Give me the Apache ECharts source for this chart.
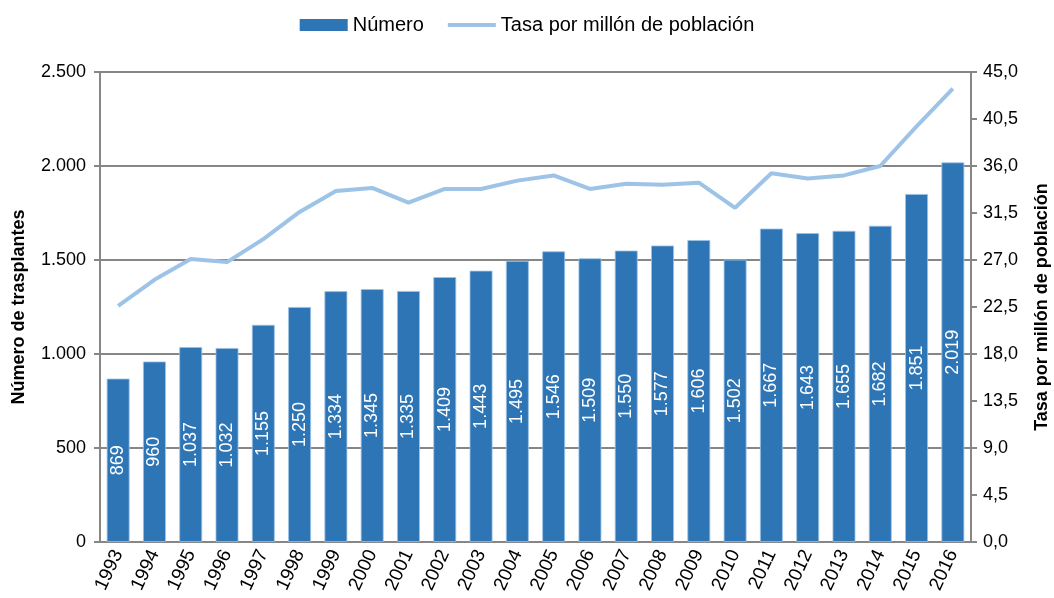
<!DOCTYPE html>
<html>
<head>
<meta charset="utf-8">
<script src="https://cdn.jsdelivr.net/npm/echarts@6/dist/echarts.min.js"></script>
<style>html,body{margin:0;padding:0;background:#fff}#c{width:1054px;height:598px}</style>
</head>
<body>
<div id="c"></div>
<script>
const years = ['1993','1994','1995','1996','1997','1998','1999','2000','2001','2002','2003','2004','2005','2006','2007','2008','2009','2010','2011','2012','2013','2014','2015','2016'];
const numero = [869,960,1037,1032,1155,1250,1334,1345,1335,1409,1443,1495,1546,1509,1550,1577,1606,1502,1667,1643,1655,1682,1851,2019];
const tasa = [22.6,25.1,27.1,26.8,29.0,31.6,33.6,33.9,32.5,33.8,33.8,34.6,35.1,33.8,34.3,34.2,34.4,32.0,35.3,34.8,35.1,36.0,39.8,43.4];

const FONT = '"Liberation Sans", Arial, Helvetica, sans-serif';
const thou = v => String(v).replace(/\B(?=(\d{3})+(?!\d))/g, '.');
const chart = echarts.init(document.getElementById('c'), null, {renderer: 'canvas'});
chart.setOption({
  animation: false,
  textStyle: {fontFamily: FONT},
  legend: {
    top: 10, left: 'center', itemGap: 24, itemWidth: 48, itemHeight: 12,
    textStyle: {fontSize: 20, color: '#000', fontFamily: FONT},
    data: [
      {name: 'Número', icon: 'rect', itemStyle: {borderWidth: 0}},
      {name: 'Tasa por millón de población', icon: 'path://M0,0 L12,0 L12,1 L0,1 Z', itemStyle: {color: '#9DC3E6', borderWidth: 0}}
    ]
  },
  grid: {left: 100, right: 83, top: 72, bottom: 56, containLabel: false, outerBoundsMode: 'none'},
  xAxis: {
    type: 'category', data: years,
    axisLine: {lineStyle: {color: '#868686', width: 2}},
    axisTick: {show: false},
    axisLabel: {rotate: 65, fontSize: 19, color: '#000', margin: 9, interval: 0}
  },
  yAxis: [{
    type: 'value', min: 0, max: 2500, interval: 500,
    name: 'Número de trasplantes', nameLocation: 'middle', nameGap: 72, nameRotate: 90,
    nameTextStyle: {fontSize: 18, fontWeight: 'bold', color: '#000'},
    axisLine: {show: true, lineStyle: {color: '#868686', width: 2}},
    axisTick: {show: true, length: 6, lineStyle: {color: '#868686', width: 2}},
    axisLabel: {fontSize: 18, color: '#000', margin: 14, formatter: v => thou(v)},
    splitLine: {lineStyle: {color: '#868686', width: 2}}
  }, {
    type: 'value', min: 0, max: 45, interval: 4.5, position: 'right',
    name: 'Tasa por millón de población', nameLocation: 'middle', nameGap: 62, nameRotate: 90,
    nameTextStyle: {fontSize: 18, fontWeight: 'bold', color: '#000'},
    axisLine: {show: true, lineStyle: {color: '#868686', width: 2}},
    axisTick: {show: true, length: 6, lineStyle: {color: '#868686', width: 2}},
    axisLabel: {fontSize: 18, color: '#000', margin: 12, formatter: v => v.toFixed(1).replace('.', ',')},
    splitLine: {show: false}
  }],
  series: [{
    name: 'Número', type: 'bar', data: numero, barWidth: '63%',
    itemStyle: {color: '#2E75B6', borderColor: '#9DC3E6', borderWidth: 0.8},
    label: {show: true, position: 'inside', rotate: 90, color: '#fff', fontSize: 18,
      formatter: p => thou(p.value)}
  }, {
    name: 'Tasa por millón de población', type: 'line', yAxisIndex: 1, data: tasa,
    symbol: 'none', lineStyle: {color: '#9DC3E6', width: 4}, itemStyle: {color: '#9DC3E6'}
  }]
});
</script>
</body>
</html>
